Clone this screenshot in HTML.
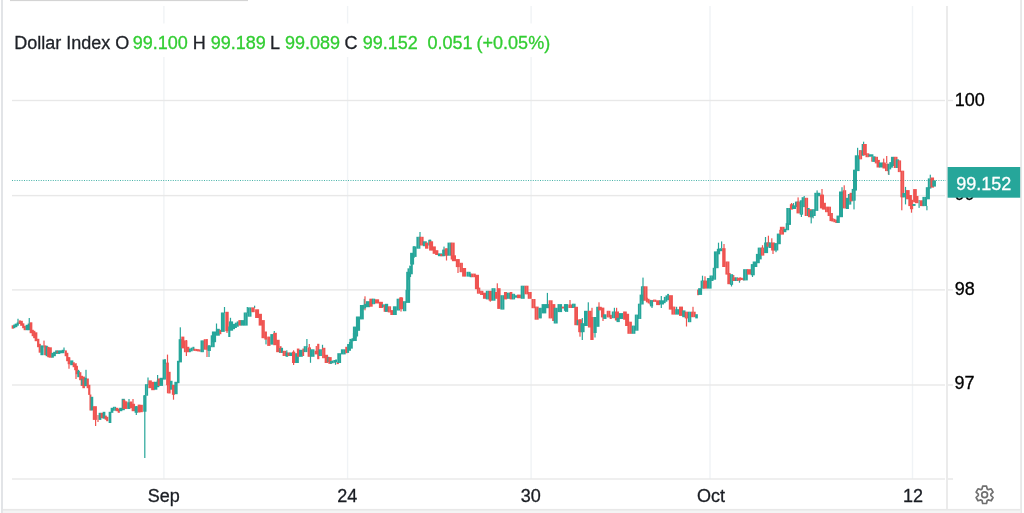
<!DOCTYPE html>
<html><head><meta charset="utf-8"><style>
html,body{margin:0;padding:0;background:#fff;width:1024px;height:513px;overflow:hidden}
svg{display:block;will-change:transform}
text{font-family:"Liberation Sans",sans-serif}
</style></head><body>
<svg width="1024" height="513" viewBox="0 0 1024 513">
<rect x="0" y="0" width="1024" height="513" fill="#ffffff"/>
<!-- outer frame -->
<rect x="1.1" y="0" width="1.8" height="513" fill="#dfe1e5"/>
<rect x="1020.3" y="0" width="1.5" height="513" fill="#e3e3e3"/>
<rect x="2.9" y="508.9" width="1017.4" height="1.9" fill="#e8e8e8"/>
<rect x="2.9" y="510.8" width="1017.4" height="2.2" fill="#f4f4f4"/>
<rect x="10" y="0" width="238" height="1.1" fill="#d4d4d4"/>
<!-- vertical grid -->
<g fill="#f0f3f6">
<rect x="163.2" y="6" width="1.4" height="473"/>
<rect x="346.9" y="6" width="1.4" height="473"/>
<rect x="530.4" y="6" width="1.4" height="473"/>
<rect x="709.3" y="6" width="1.4" height="473"/>
<rect x="911.8" y="6" width="1.4" height="473"/>
</g>
<!-- horizontal grid -->
<g fill="#e8e8e8">
<rect x="12" y="99.8" width="933" height="1.4"/>
<rect x="12" y="194.9" width="933" height="1.4"/>
<rect x="12" y="289.2" width="933" height="1.4"/>
<rect x="12" y="384.3" width="933" height="1.4"/>
<rect x="12" y="478.3" width="933" height="1.4"/>
</g>
<!-- price axis border and ticks -->
<rect x="946.2" y="6" width="1.6" height="503" fill="#e6e6e6"/>
<g fill="#e6e6e6">
<rect x="948" y="99.8" width="5" height="1.4"/>
<rect x="948" y="194.9" width="5" height="1.4"/>
<rect x="948" y="289.2" width="5" height="1.4"/>
<rect x="948" y="384.3" width="5" height="1.4"/>
<rect x="948" y="478.3" width="5" height="1.4"/>
</g>
<!-- last price line -->
<line x1="12" y1="180.5" x2="946" y2="180.5" stroke="#26a69a" stroke-width="1.2" stroke-dasharray="1 1.4" opacity="0.85"/>
<!-- candles -->
<g>
<rect x="17.40" y="318.75" width="1.2" height="5.25" fill="#26a69a"/>
<rect x="28.65" y="318.00" width="1.2" height="6.00" fill="#26a69a"/>
<rect x="43.40" y="340.60" width="1.2" height="6.90" fill="#ef5350"/>
<rect x="63.40" y="347.50" width="1.2" height="3.50" fill="#26a69a"/>
<rect x="68.40" y="357.00" width="1.2" height="11.75" fill="#ef5350"/>
<rect x="75.40" y="363.00" width="1.2" height="16.00" fill="#ef5350"/>
<rect x="77.90" y="369.80" width="1.2" height="7.20" fill="#26a69a"/>
<rect x="85.40" y="369.80" width="1.2" height="16.20" fill="#26a69a"/>
<rect x="95.00" y="410.00" width="1.2" height="16.00" fill="#ef5350"/>
<rect x="97.40" y="415.00" width="1.2" height="7.00" fill="#ef5350"/>
<rect x="128.40" y="399.00" width="1.2" height="10.00" fill="#26a69a"/>
<rect x="132.40" y="399.00" width="1.2" height="12.00" fill="#ef5350"/>
<rect x="135.70" y="406.00" width="1.2" height="9.00" fill="#26a69a"/>
<rect x="144.20" y="395.00" width="1.2" height="63.00" fill="#26a69a"/>
<rect x="147.40" y="377.50" width="1.2" height="7.50" fill="#26a69a"/>
<rect x="157.00" y="375.00" width="1.2" height="7.00" fill="#26a69a"/>
<rect x="164.40" y="359.00" width="1.2" height="5.00" fill="#26a69a"/>
<rect x="166.90" y="354.60" width="1.2" height="38.70" fill="#ef5350"/>
<rect x="172.90" y="385.00" width="1.2" height="14.70" fill="#ef5350"/>
<rect x="179.70" y="327.30" width="1.2" height="12.70" fill="#26a69a"/>
<rect x="185.80" y="340.00" width="1.2" height="16.00" fill="#ef5350"/>
<rect x="206.40" y="339.00" width="1.2" height="18.00" fill="#ef5350"/>
<rect x="208.40" y="345.00" width="1.2" height="12.00" fill="#26a69a"/>
<rect x="215.90" y="323.50" width="1.2" height="8.50" fill="#26a69a"/>
<rect x="223.90" y="307.00" width="1.2" height="6.00" fill="#26a69a"/>
<rect x="226.40" y="330.00" width="1.2" height="3.00" fill="#ef5350"/>
<rect x="229.90" y="317.80" width="1.2" height="4.20" fill="#26a69a"/>
<rect x="246.70" y="307.00" width="1.2" height="6.00" fill="#26a69a"/>
<rect x="254.00" y="305.70" width="1.2" height="2.30" fill="#26a69a"/>
<rect x="265.40" y="338.00" width="1.2" height="6.40" fill="#26a69a"/>
<rect x="273.70" y="331.00" width="1.2" height="4.00" fill="#26a69a"/>
<rect x="286.20" y="350.30" width="1.2" height="5.70" fill="#26a69a"/>
<rect x="293.00" y="350.30" width="1.2" height="14.70" fill="#ef5350"/>
<rect x="306.30" y="339.00" width="1.2" height="8.00" fill="#26a69a"/>
<rect x="308.70" y="344.00" width="1.2" height="4.00" fill="#ef5350"/>
<rect x="309.90" y="349.50" width="1.2" height="13.30" fill="#26a69a"/>
<rect x="315.70" y="346.00" width="1.2" height="5.00" fill="#ef5350"/>
<rect x="321.90" y="344.80" width="1.2" height="5.20" fill="#26a69a"/>
<rect x="334.90" y="360.00" width="1.2" height="4.80" fill="#26a69a"/>
<rect x="363.70" y="298.90" width="1.2" height="6.10" fill="#26a69a"/>
<rect x="364.40" y="296.30" width="1.2" height="14.00" fill="#ef5350"/>
<rect x="400.40" y="297.00" width="1.2" height="14.60" fill="#ef5350"/>
<rect x="413.40" y="246.00" width="1.2" height="12.00" fill="#26a69a"/>
<rect x="419.40" y="232.00" width="1.2" height="5.00" fill="#26a69a"/>
<rect x="429.40" y="239.60" width="1.2" height="1.40" fill="#26a69a"/>
<rect x="443.40" y="246.60" width="1.2" height="3.40" fill="#26a69a"/>
<rect x="445.90" y="248.50" width="1.2" height="12.00" fill="#ef5350"/>
<rect x="457.40" y="259.00" width="1.2" height="14.00" fill="#ef5350"/>
<rect x="489.70" y="291.00" width="1.2" height="10.70" fill="#ef5350"/>
<rect x="496.70" y="283.30" width="1.2" height="8.70" fill="#ef5350"/>
<rect x="546.80" y="292.90" width="1.2" height="12.10" fill="#26a69a"/>
<rect x="569.40" y="300.00" width="1.2" height="5.00" fill="#ef5350"/>
<rect x="579.40" y="319.50" width="1.2" height="17.20" fill="#ef5350"/>
<rect x="581.70" y="318.00" width="1.2" height="22.00" fill="#26a69a"/>
<rect x="587.70" y="302.30" width="1.2" height="8.70" fill="#26a69a"/>
<rect x="591.40" y="307.80" width="1.2" height="9.20" fill="#ef5350"/>
<rect x="594.40" y="330.00" width="1.2" height="7.50" fill="#26a69a"/>
<rect x="598.40" y="302.30" width="1.2" height="4.70" fill="#ef5350"/>
<rect x="602.40" y="316.00" width="1.2" height="5.00" fill="#ef5350"/>
<rect x="613.80" y="307.80" width="1.2" height="4.20" fill="#26a69a"/>
<rect x="616.00" y="307.80" width="1.2" height="4.20" fill="#ef5350"/>
<rect x="642.40" y="277.60" width="1.2" height="9.40" fill="#26a69a"/>
<rect x="651.40" y="300.00" width="1.2" height="8.00" fill="#26a69a"/>
<rect x="660.70" y="296.00" width="1.2" height="12.00" fill="#26a69a"/>
<rect x="676.00" y="306.80" width="1.2" height="3.20" fill="#26a69a"/>
<rect x="685.90" y="318.00" width="1.2" height="8.50" fill="#ef5350"/>
<rect x="692.40" y="306.80" width="1.2" height="5.20" fill="#ef5350"/>
<rect x="701.90" y="275.70" width="1.2" height="5.30" fill="#26a69a"/>
<rect x="704.40" y="276.30" width="1.2" height="4.70" fill="#ef5350"/>
<rect x="717.90" y="242.70" width="1.2" height="6.30" fill="#26a69a"/>
<rect x="721.00" y="241.40" width="1.2" height="6.60" fill="#26a69a"/>
<rect x="723.40" y="244.00" width="1.2" height="5.00" fill="#ef5350"/>
<rect x="730.90" y="284.00" width="1.2" height="2.50" fill="#26a69a"/>
<rect x="733.10" y="275.00" width="1.2" height="3.00" fill="#ef5350"/>
<rect x="738.90" y="280.00" width="1.2" height="2.70" fill="#26a69a"/>
<rect x="751.90" y="274.00" width="1.2" height="3.00" fill="#26a69a"/>
<rect x="761.90" y="245.20" width="1.2" height="2.80" fill="#ef5350"/>
<rect x="764.90" y="237.00" width="1.2" height="6.00" fill="#26a69a"/>
<rect x="767.80" y="235.70" width="1.2" height="7.30" fill="#ef5350"/>
<rect x="771.20" y="238.30" width="1.2" height="4.70" fill="#ef5350"/>
<rect x="772.40" y="250.00" width="1.2" height="4.00" fill="#ef5350"/>
<rect x="775.40" y="250.00" width="1.2" height="2.20" fill="#26a69a"/>
<rect x="790.90" y="203.00" width="1.2" height="2.00" fill="#ef5350"/>
<rect x="792.90" y="203.00" width="1.2" height="3.00" fill="#26a69a"/>
<rect x="797.50" y="197.40" width="1.2" height="4.60" fill="#ef5350"/>
<rect x="800.80" y="214.00" width="1.2" height="3.00" fill="#26a69a"/>
<rect x="803.60" y="196.00" width="1.2" height="1.40" fill="#26a69a"/>
<rect x="810.60" y="217.00" width="1.2" height="6.40" fill="#26a69a"/>
<rect x="812.50" y="215.00" width="1.2" height="3.30" fill="#26a69a"/>
<rect x="816.50" y="190.40" width="1.2" height="2.60" fill="#26a69a"/>
<rect x="821.40" y="189.00" width="1.2" height="6.00" fill="#ef5350"/>
<rect x="841.40" y="187.20" width="1.2" height="4.80" fill="#26a69a"/>
<rect x="843.60" y="185.30" width="1.2" height="5.10" fill="#ef5350"/>
<rect x="853.40" y="200.00" width="1.2" height="9.40" fill="#26a69a"/>
<rect x="857.00" y="147.80" width="1.2" height="8.20" fill="#26a69a"/>
<rect x="859.40" y="150.40" width="1.2" height="0.60" fill="#26a69a"/>
<rect x="863.00" y="141.70" width="1.2" height="2.50" fill="#26a69a"/>
<rect x="871.20" y="156.50" width="1.2" height="5.20" fill="#ef5350"/>
<rect x="883.10" y="158.60" width="1.2" height="4.40" fill="#ef5350"/>
<rect x="886.10" y="156.00" width="1.2" height="7.00" fill="#ef5350"/>
<rect x="887.80" y="170.00" width="1.2" height="4.50" fill="#ef5350"/>
<rect x="888.30" y="170.90" width="1.2" height="4.10" fill="#26a69a"/>
<rect x="901.20" y="197.00" width="1.2" height="13.30" fill="#ef5350"/>
<rect x="904.90" y="186.90" width="1.2" height="17.50" fill="#26a69a"/>
<rect x="910.90" y="209.00" width="1.2" height="3.70" fill="#ef5350"/>
<rect x="918.50" y="200.00" width="1.2" height="7.90" fill="#26a69a"/>
<rect x="926.30" y="205.90" width="1.2" height="4.40" fill="#26a69a"/>
<rect x="929.70" y="174.70" width="1.2" height="3.90" fill="#26a69a"/>
<rect x="11.65" y="325.30" width="2.20" height="3.40" fill="#ef5350"/>
<rect x="13.15" y="324.60" width="2.20" height="3.60" fill="#26a69a"/>
<rect x="14.65" y="323.60" width="2.70" height="3.60" fill="#26a69a"/>
<rect x="16.65" y="322.50" width="2.20" height="3.20" fill="#26a69a"/>
<rect x="18.65" y="320.40" width="2.20" height="3.55" fill="#ef5350"/>
<rect x="20.15" y="320.80" width="2.70" height="5.00" fill="#ef5350"/>
<rect x="22.15" y="323.30" width="2.20" height="4.90" fill="#ef5350"/>
<rect x="23.65" y="325.80" width="2.20" height="4.40" fill="#ef5350"/>
<rect x="25.65" y="324.80" width="2.70" height="5.40" fill="#26a69a"/>
<rect x="27.65" y="323.55" width="2.70" height="6.65" fill="#26a69a"/>
<rect x="29.65" y="322.30" width="2.70" height="10.90" fill="#ef5350"/>
<rect x="31.65" y="329.80" width="2.20" height="6.40" fill="#ef5350"/>
<rect x="33.15" y="330.80" width="2.20" height="7.40" fill="#ef5350"/>
<rect x="34.65" y="332.30" width="2.70" height="8.90" fill="#ef5350"/>
<rect x="37.05" y="338.80" width="2.30" height="8.40" fill="#ef5350"/>
<rect x="38.65" y="343.80" width="2.20" height="8.90" fill="#ef5350"/>
<rect x="40.40" y="345.40" width="1.70" height="9.80" fill="#26a69a"/>
<rect x="41.90" y="345.40" width="1.70" height="9.80" fill="#26a69a"/>
<rect x="44.15" y="345.40" width="2.20" height="9.80" fill="#ef5350"/>
<rect x="45.65" y="345.80" width="2.20" height="10.40" fill="#26a69a"/>
<rect x="47.15" y="346.80" width="2.20" height="10.40" fill="#ef5350"/>
<rect x="48.65" y="347.30" width="3.20" height="10.40" fill="#ef5350"/>
<rect x="51.35" y="352.80" width="2.50" height="4.90" fill="#26a69a"/>
<rect x="53.15" y="351.80" width="2.70" height="4.40" fill="#26a69a"/>
<rect x="55.15" y="350.40" width="2.70" height="3.55" fill="#26a69a"/>
<rect x="56.65" y="350.80" width="1.70" height="2.40" fill="#ef5350"/>
<rect x="57.65" y="350.40" width="2.70" height="3.55" fill="#26a69a"/>
<rect x="59.65" y="350.40" width="2.70" height="2.80" fill="#26a69a"/>
<rect x="61.65" y="349.80" width="2.70" height="3.40" fill="#26a69a"/>
<rect x="64.65" y="350.40" width="2.20" height="5.80" fill="#ef5350"/>
<rect x="66.15" y="352.80" width="2.20" height="8.40" fill="#ef5350"/>
<rect x="67.65" y="357.30" width="2.70" height="6.90" fill="#ef5350"/>
<rect x="70.15" y="360.40" width="3.20" height="4.80" fill="#26a69a"/>
<rect x="72.65" y="362.30" width="2.20" height="4.90" fill="#ef5350"/>
<rect x="74.15" y="363.80" width="2.20" height="6.40" fill="#ef5350"/>
<rect x="75.65" y="365.80" width="2.30" height="8.40" fill="#ef5350"/>
<rect x="77.25" y="370.80" width="2.60" height="6.40" fill="#26a69a"/>
<rect x="79.15" y="372.20" width="2.20" height="8.00" fill="#ef5350"/>
<rect x="80.65" y="375.80" width="2.40" height="10.10" fill="#ef5350"/>
<rect x="81.15" y="378.80" width="1.70" height="6.40" fill="#26a69a"/>
<rect x="82.35" y="376.60" width="2.60" height="11.60" fill="#ef5350"/>
<rect x="84.25" y="377.80" width="2.60" height="8.40" fill="#26a69a"/>
<rect x="86.65" y="378.50" width="2.20" height="9.70" fill="#ef5350"/>
<rect x="88.15" y="384.80" width="2.20" height="10.10" fill="#ef5350"/>
<rect x="89.45" y="394.50" width="1.90" height="16.00" fill="#ef5350"/>
<rect x="90.65" y="396.80" width="2.60" height="13.70" fill="#26a69a"/>
<rect x="92.80" y="406.20" width="2.15" height="13.70" fill="#ef5350"/>
<rect x="94.75" y="406.20" width="2.15" height="13.70" fill="#ef5350"/>
<rect x="98.65" y="412.80" width="2.70" height="7.10" fill="#26a69a"/>
<rect x="100.65" y="412.80" width="2.70" height="5.40" fill="#ef5350"/>
<rect x="102.65" y="411.80" width="2.70" height="6.90" fill="#26a69a"/>
<rect x="104.65" y="415.60" width="2.20" height="4.10" fill="#ef5350"/>
<rect x="106.15" y="416.80" width="2.20" height="4.40" fill="#ef5350"/>
<rect x="108.65" y="411.80" width="2.70" height="11.20" fill="#26a69a"/>
<rect x="110.65" y="407.80" width="2.70" height="5.00" fill="#26a69a"/>
<rect x="112.90" y="406.80" width="1.70" height="3.90" fill="#26a69a"/>
<rect x="114.40" y="406.80" width="1.70" height="3.90" fill="#26a69a"/>
<rect x="115.65" y="407.80" width="2.70" height="3.40" fill="#ef5350"/>
<rect x="117.65" y="408.80" width="2.20" height="4.00" fill="#ef5350"/>
<rect x="119.15" y="407.80" width="3.20" height="3.40" fill="#26a69a"/>
<rect x="121.65" y="398.80" width="3.20" height="11.40" fill="#26a69a"/>
<rect x="122.65" y="399.80" width="2.70" height="9.15" fill="#ef5350"/>
<rect x="124.65" y="401.30" width="2.70" height="7.65" fill="#ef5350"/>
<rect x="127.25" y="402.30" width="3.10" height="6.65" fill="#26a69a"/>
<rect x="129.65" y="401.50" width="2.70" height="6.70" fill="#ef5350"/>
<rect x="131.65" y="403.80" width="3.40" height="7.40" fill="#ef5350"/>
<rect x="134.60" y="406.20" width="1.75" height="6.60" fill="#26a69a"/>
<rect x="136.15" y="406.20" width="1.75" height="6.60" fill="#26a69a"/>
<rect x="137.65" y="404.60" width="2.70" height="7.90" fill="#ef5350"/>
<rect x="139.65" y="404.80" width="3.20" height="7.40" fill="#ef5350"/>
<rect x="143.20" y="395.30" width="1.75" height="16.40" fill="#26a69a"/>
<rect x="144.75" y="395.30" width="1.75" height="16.40" fill="#26a69a"/>
<rect x="144.90" y="384.20" width="1.70" height="11.50" fill="#26a69a"/>
<rect x="146.40" y="384.20" width="1.70" height="11.50" fill="#26a69a"/>
<rect x="148.35" y="380.40" width="3.50" height="7.80" fill="#ef5350"/>
<rect x="151.15" y="381.80" width="3.60" height="8.40" fill="#ef5350"/>
<rect x="154.05" y="381.80" width="3.30" height="7.90" fill="#26a69a"/>
<rect x="156.65" y="380.40" width="2.70" height="6.80" fill="#26a69a"/>
<rect x="157.65" y="378.50" width="2.70" height="7.40" fill="#ef5350"/>
<rect x="159.65" y="377.80" width="3.40" height="8.10" fill="#26a69a"/>
<rect x="162.60" y="359.50" width="1.75" height="20.10" fill="#26a69a"/>
<rect x="164.15" y="359.50" width="1.75" height="20.10" fill="#26a69a"/>
<rect x="166.15" y="362.60" width="2.70" height="22.60" fill="#ef5350"/>
<rect x="168.15" y="371.80" width="2.50" height="21.70" fill="#ef5350"/>
<rect x="169.95" y="380.80" width="2.60" height="8.90" fill="#26a69a"/>
<rect x="171.85" y="384.80" width="3.20" height="10.00" fill="#ef5350"/>
<rect x="174.35" y="381.80" width="3.30" height="12.40" fill="#26a69a"/>
<rect x="176.95" y="360.80" width="2.60" height="22.40" fill="#26a69a"/>
<rect x="178.65" y="339.20" width="3.30" height="23.20" fill="#26a69a"/>
<rect x="181.25" y="336.60" width="3.10" height="11.80" fill="#ef5350"/>
<rect x="183.90" y="340.40" width="1.85" height="11.80" fill="#ef5350"/>
<rect x="185.55" y="340.40" width="1.85" height="11.80" fill="#ef5350"/>
<rect x="186.95" y="346.80" width="2.40" height="5.40" fill="#ef5350"/>
<rect x="188.90" y="348.47" width="1.97" height="3.73" fill="#26a69a"/>
<rect x="190.67" y="347.63" width="1.97" height="3.73" fill="#26a69a"/>
<rect x="192.43" y="346.80" width="1.97" height="3.73" fill="#26a69a"/>
<rect x="193.50" y="348.70" width="1.95" height="2.20" fill="#ef5350"/>
<rect x="195.25" y="348.93" width="1.95" height="2.20" fill="#ef5350"/>
<rect x="197.00" y="349.17" width="1.95" height="2.20" fill="#ef5350"/>
<rect x="198.75" y="349.40" width="1.95" height="2.20" fill="#ef5350"/>
<rect x="200.50" y="340.40" width="1.80" height="11.80" fill="#26a69a"/>
<rect x="202.10" y="340.40" width="1.80" height="11.80" fill="#26a69a"/>
<rect x="203.70" y="339.20" width="2.10" height="10.50" fill="#ef5350"/>
<rect x="205.60" y="339.20" width="2.10" height="10.50" fill="#ef5350"/>
<rect x="207.50" y="345.50" width="1.80" height="5.50" fill="#26a69a"/>
<rect x="209.10" y="345.50" width="1.80" height="5.50" fill="#26a69a"/>
<rect x="210.70" y="335.30" width="2.10" height="11.90" fill="#26a69a"/>
<rect x="212.60" y="335.30" width="2.10" height="11.90" fill="#26a69a"/>
<rect x="211.90" y="331.50" width="2.20" height="10.70" fill="#26a69a"/>
<rect x="213.90" y="331.50" width="2.20" height="10.70" fill="#26a69a"/>
<rect x="215.90" y="328.80" width="2.05" height="6.90" fill="#26a69a"/>
<rect x="217.75" y="328.80" width="2.05" height="6.90" fill="#26a69a"/>
<rect x="219.35" y="329.80" width="2.00" height="4.40" fill="#ef5350"/>
<rect x="220.90" y="312.50" width="2.05" height="19.40" fill="#26a69a"/>
<rect x="222.75" y="312.50" width="2.05" height="19.40" fill="#26a69a"/>
<rect x="225.30" y="311.80" width="1.80" height="19.40" fill="#ef5350"/>
<rect x="226.90" y="311.80" width="1.80" height="19.40" fill="#ef5350"/>
<rect x="228.25" y="326.50" width="2.10" height="10.50" fill="#26a69a"/>
<rect x="228.90" y="321.40" width="2.20" height="9.30" fill="#26a69a"/>
<rect x="230.90" y="321.40" width="2.20" height="9.30" fill="#26a69a"/>
<rect x="232.90" y="323.87" width="2.10" height="5.33" fill="#26a69a"/>
<rect x="234.80" y="322.63" width="2.10" height="5.33" fill="#26a69a"/>
<rect x="236.70" y="321.40" width="2.10" height="5.33" fill="#26a69a"/>
<rect x="238.35" y="320.10" width="3.00" height="5.50" fill="#ef5350"/>
<rect x="240.65" y="320.10" width="3.50" height="5.50" fill="#26a69a"/>
<rect x="243.70" y="312.50" width="2.10" height="13.10" fill="#26a69a"/>
<rect x="245.60" y="312.50" width="2.10" height="13.10" fill="#26a69a"/>
<rect x="247.50" y="307.40" width="2.10" height="9.30" fill="#26a69a"/>
<rect x="249.40" y="307.40" width="2.10" height="9.30" fill="#26a69a"/>
<rect x="251.30" y="307.40" width="1.80" height="4.80" fill="#ef5350"/>
<rect x="252.90" y="307.40" width="1.80" height="4.80" fill="#ef5350"/>
<rect x="255.10" y="309.30" width="2.10" height="8.70" fill="#ef5350"/>
<rect x="257.00" y="309.30" width="2.10" height="8.70" fill="#ef5350"/>
<rect x="258.65" y="313.80" width="3.30" height="11.80" fill="#ef5350"/>
<rect x="261.50" y="320.10" width="1.75" height="18.10" fill="#ef5350"/>
<rect x="263.05" y="320.10" width="1.75" height="18.10" fill="#ef5350"/>
<rect x="264.35" y="331.50" width="2.60" height="8.10" fill="#ef5350"/>
<rect x="267.20" y="336.60" width="1.75" height="9.30" fill="#ef5350"/>
<rect x="268.75" y="336.60" width="1.75" height="9.30" fill="#ef5350"/>
<rect x="270.30" y="334.10" width="1.80" height="10.50" fill="#26a69a"/>
<rect x="271.90" y="334.10" width="1.80" height="10.50" fill="#26a69a"/>
<rect x="273.25" y="332.80" width="3.60" height="12.40" fill="#ef5350"/>
<rect x="276.15" y="339.80" width="3.50" height="12.40" fill="#ef5350"/>
<rect x="278.95" y="348.00" width="1.70" height="4.90" fill="#26a69a"/>
<rect x="279.65" y="346.20" width="1.90" height="6.70" fill="#ef5350"/>
<rect x="280.85" y="347.80" width="2.20" height="5.10" fill="#26a69a"/>
<rect x="282.60" y="350.80" width="1.80" height="5.20" fill="#ef5350"/>
<rect x="284.20" y="350.80" width="1.80" height="5.20" fill="#ef5350"/>
<rect x="285.55" y="352.50" width="2.60" height="4.30" fill="#26a69a"/>
<rect x="287.45" y="352.50" width="2.70" height="3.50" fill="#ef5350"/>
<rect x="289.45" y="352.50" width="3.00" height="3.50" fill="#26a69a"/>
<rect x="292.00" y="351.70" width="1.75" height="11.30" fill="#ef5350"/>
<rect x="293.55" y="351.70" width="1.75" height="11.30" fill="#ef5350"/>
<rect x="295.10" y="353.20" width="1.98" height="9.80" fill="#26a69a"/>
<rect x="296.88" y="353.20" width="1.98" height="9.80" fill="#26a69a"/>
<rect x="296.85" y="348.55" width="2.60" height="8.25" fill="#ef5350"/>
<rect x="299.00" y="349.80" width="2.00" height="7.00" fill="#26a69a"/>
<rect x="300.80" y="349.80" width="2.00" height="7.00" fill="#26a69a"/>
<rect x="302.35" y="348.55" width="1.80" height="7.45" fill="#ef5350"/>
<rect x="303.70" y="346.20" width="1.95" height="5.90" fill="#26a69a"/>
<rect x="305.45" y="346.20" width="1.95" height="5.90" fill="#26a69a"/>
<rect x="307.60" y="347.40" width="1.80" height="9.40" fill="#ef5350"/>
<rect x="309.20" y="347.40" width="1.80" height="9.40" fill="#ef5350"/>
<rect x="309.90" y="349.30" width="2.40" height="7.50" fill="#26a69a"/>
<rect x="312.10" y="349.30" width="2.40" height="7.50" fill="#26a69a"/>
<rect x="314.65" y="350.80" width="3.20" height="3.60" fill="#ef5350"/>
<rect x="317.15" y="343.80" width="2.20" height="15.40" fill="#ef5350"/>
<rect x="318.60" y="349.30" width="1.75" height="6.70" fill="#26a69a"/>
<rect x="320.15" y="349.30" width="1.75" height="6.70" fill="#26a69a"/>
<rect x="322.10" y="347.80" width="1.75" height="10.40" fill="#ef5350"/>
<rect x="323.65" y="347.80" width="1.75" height="10.40" fill="#ef5350"/>
<rect x="324.65" y="354.80" width="3.40" height="8.20" fill="#ef5350"/>
<rect x="327.35" y="356.80" width="2.00" height="5.40" fill="#26a69a"/>
<rect x="328.30" y="357.10" width="1.80" height="6.70" fill="#ef5350"/>
<rect x="329.90" y="357.10" width="1.80" height="6.70" fill="#ef5350"/>
<rect x="329.90" y="361.06" width="1.95" height="2.74" fill="#26a69a"/>
<rect x="331.65" y="360.54" width="1.95" height="2.74" fill="#26a69a"/>
<rect x="333.40" y="360.02" width="1.95" height="2.74" fill="#26a69a"/>
<rect x="335.15" y="359.50" width="1.95" height="2.74" fill="#26a69a"/>
<rect x="336.65" y="362.20" width="2.20" height="1.90" fill="#ef5350"/>
<rect x="337.30" y="353.20" width="2.00" height="9.80" fill="#26a69a"/>
<rect x="339.10" y="353.20" width="2.00" height="9.80" fill="#26a69a"/>
<rect x="340.90" y="349.30" width="2.50" height="5.10" fill="#26a69a"/>
<rect x="343.20" y="349.30" width="2.50" height="5.10" fill="#26a69a"/>
<rect x="345.25" y="346.80" width="2.30" height="6.40" fill="#ef5350"/>
<rect x="347.10" y="344.03" width="2.03" height="8.87" fill="#26a69a"/>
<rect x="348.93" y="341.92" width="2.03" height="8.87" fill="#26a69a"/>
<rect x="350.77" y="339.80" width="2.03" height="8.87" fill="#26a69a"/>
<rect x="349.40" y="338.90" width="2.30" height="3.00" fill="#26a69a"/>
<rect x="351.50" y="338.25" width="2.30" height="3.00" fill="#26a69a"/>
<rect x="353.60" y="337.60" width="2.30" height="3.00" fill="#26a69a"/>
<rect x="352.90" y="332.93" width="1.87" height="6.67" fill="#26a69a"/>
<rect x="354.57" y="331.37" width="1.87" height="6.67" fill="#26a69a"/>
<rect x="356.23" y="329.80" width="1.87" height="6.67" fill="#26a69a"/>
<rect x="352.90" y="326.60" width="2.05" height="14.40" fill="#26a69a"/>
<rect x="354.75" y="326.60" width="2.05" height="14.40" fill="#26a69a"/>
<rect x="355.90" y="316.50" width="2.20" height="14.30" fill="#26a69a"/>
<rect x="357.90" y="316.50" width="2.20" height="14.30" fill="#26a69a"/>
<rect x="359.90" y="305.00" width="2.05" height="14.40" fill="#26a69a"/>
<rect x="361.75" y="305.00" width="2.05" height="14.40" fill="#26a69a"/>
<rect x="360.90" y="305.90" width="1.87" height="4.60" fill="#26a69a"/>
<rect x="362.57" y="304.85" width="1.87" height="4.60" fill="#26a69a"/>
<rect x="364.23" y="303.80" width="1.87" height="4.60" fill="#26a69a"/>
<rect x="365.90" y="301.20" width="2.20" height="6.00" fill="#26a69a"/>
<rect x="367.90" y="301.20" width="2.20" height="6.00" fill="#26a69a"/>
<rect x="369.30" y="298.70" width="1.80" height="8.00" fill="#ef5350"/>
<rect x="370.90" y="298.70" width="1.80" height="8.00" fill="#ef5350"/>
<rect x="371.90" y="298.70" width="1.75" height="5.50" fill="#26a69a"/>
<rect x="373.45" y="298.70" width="1.75" height="5.50" fill="#26a69a"/>
<rect x="375.00" y="299.30" width="2.15" height="4.20" fill="#ef5350"/>
<rect x="376.95" y="299.30" width="2.15" height="4.20" fill="#ef5350"/>
<rect x="378.90" y="301.80" width="2.10" height="6.20" fill="#ef5350"/>
<rect x="380.80" y="301.80" width="2.10" height="6.20" fill="#ef5350"/>
<rect x="381.90" y="304.40" width="1.85" height="2.90" fill="#26a69a"/>
<rect x="383.55" y="304.40" width="1.85" height="2.90" fill="#26a69a"/>
<rect x="383.65" y="305.00" width="3.30" height="6.80" fill="#ef5350"/>
<rect x="384.95" y="303.80" width="3.20" height="8.00" fill="#26a69a"/>
<rect x="387.70" y="306.30" width="1.80" height="6.10" fill="#ef5350"/>
<rect x="389.30" y="306.30" width="1.80" height="6.10" fill="#ef5350"/>
<rect x="390.30" y="310.10" width="1.75" height="4.90" fill="#ef5350"/>
<rect x="391.85" y="310.10" width="1.75" height="4.90" fill="#ef5350"/>
<rect x="392.90" y="306.30" width="2.05" height="8.70" fill="#26a69a"/>
<rect x="394.75" y="306.30" width="2.05" height="8.70" fill="#26a69a"/>
<rect x="396.60" y="298.70" width="1.80" height="11.80" fill="#26a69a"/>
<rect x="398.20" y="298.70" width="1.80" height="11.80" fill="#26a69a"/>
<rect x="399.20" y="297.40" width="2.05" height="11.80" fill="#ef5350"/>
<rect x="401.05" y="297.40" width="2.05" height="11.80" fill="#ef5350"/>
<rect x="402.90" y="301.20" width="1.80" height="10.00" fill="#26a69a"/>
<rect x="404.50" y="301.20" width="1.80" height="10.00" fill="#26a69a"/>
<rect x="405.50" y="289.80" width="2.40" height="13.10" fill="#26a69a"/>
<rect x="407.70" y="289.80" width="2.40" height="13.10" fill="#26a69a"/>
<rect x="406.20" y="271.80" width="2.15" height="18.40" fill="#26a69a"/>
<rect x="408.15" y="271.80" width="2.15" height="18.40" fill="#26a69a"/>
<rect x="407.50" y="268.33" width="1.90" height="11.47" fill="#26a69a"/>
<rect x="409.20" y="265.57" width="1.90" height="11.47" fill="#26a69a"/>
<rect x="410.90" y="262.80" width="1.90" height="11.47" fill="#26a69a"/>
<rect x="410.10" y="252.80" width="2.10" height="11.80" fill="#26a69a"/>
<rect x="412.00" y="252.80" width="2.10" height="11.80" fill="#26a69a"/>
<rect x="412.60" y="246.40" width="2.10" height="10.50" fill="#26a69a"/>
<rect x="414.50" y="246.40" width="2.10" height="10.50" fill="#26a69a"/>
<rect x="416.40" y="236.80" width="2.10" height="11.90" fill="#26a69a"/>
<rect x="418.30" y="236.80" width="2.10" height="11.90" fill="#26a69a"/>
<rect x="419.60" y="236.80" width="2.10" height="8.70" fill="#ef5350"/>
<rect x="421.50" y="236.80" width="2.10" height="8.70" fill="#ef5350"/>
<rect x="422.80" y="241.30" width="2.10" height="4.90" fill="#26a69a"/>
<rect x="424.70" y="241.30" width="2.10" height="4.90" fill="#26a69a"/>
<rect x="425.05" y="242.60" width="3.30" height="6.10" fill="#ef5350"/>
<rect x="428.25" y="239.80" width="3.10" height="5.70" fill="#26a69a"/>
<rect x="429.10" y="241.30" width="2.10" height="9.30" fill="#ef5350"/>
<rect x="431.00" y="241.30" width="2.10" height="9.30" fill="#ef5350"/>
<rect x="432.65" y="246.40" width="3.20" height="7.40" fill="#ef5350"/>
<rect x="435.15" y="250.20" width="3.20" height="4.80" fill="#ef5350"/>
<rect x="437.90" y="253.40" width="2.15" height="2.80" fill="#26a69a"/>
<rect x="439.85" y="253.40" width="2.15" height="2.80" fill="#26a69a"/>
<rect x="440.25" y="254.00" width="3.50" height="2.20" fill="#ef5350"/>
<rect x="442.15" y="249.60" width="3.20" height="6.60" fill="#26a69a"/>
<rect x="444.65" y="248.30" width="3.30" height="7.40" fill="#ef5350"/>
<rect x="447.50" y="242.60" width="2.10" height="13.10" fill="#26a69a"/>
<rect x="449.40" y="242.60" width="2.10" height="13.10" fill="#26a69a"/>
<rect x="450.70" y="242.60" width="2.10" height="16.90" fill="#ef5350"/>
<rect x="452.60" y="242.60" width="2.10" height="16.90" fill="#ef5350"/>
<rect x="451.90" y="255.30" width="2.15" height="5.90" fill="#ef5350"/>
<rect x="453.85" y="255.30" width="2.15" height="5.90" fill="#ef5350"/>
<rect x="455.80" y="259.10" width="2.10" height="8.00" fill="#ef5350"/>
<rect x="457.70" y="259.10" width="2.10" height="8.00" fill="#ef5350"/>
<rect x="459.60" y="262.80" width="1.75" height="9.40" fill="#ef5350"/>
<rect x="461.15" y="262.80" width="1.75" height="9.40" fill="#ef5350"/>
<rect x="462.10" y="268.00" width="2.10" height="8.60" fill="#ef5350"/>
<rect x="464.00" y="268.00" width="2.10" height="8.60" fill="#ef5350"/>
<rect x="466.50" y="271.80" width="2.15" height="4.80" fill="#26a69a"/>
<rect x="468.45" y="271.80" width="2.15" height="4.80" fill="#26a69a"/>
<rect x="469.65" y="273.60" width="2.00" height="3.60" fill="#26a69a"/>
<rect x="471.20" y="273.60" width="2.40" height="3.60" fill="#ef5350"/>
<rect x="473.40" y="273.60" width="2.40" height="3.60" fill="#ef5350"/>
<rect x="474.90" y="274.80" width="2.15" height="14.40" fill="#ef5350"/>
<rect x="476.85" y="274.80" width="2.15" height="14.40" fill="#ef5350"/>
<rect x="476.90" y="287.60" width="1.80" height="6.10" fill="#ef5350"/>
<rect x="478.50" y="287.60" width="1.80" height="6.10" fill="#ef5350"/>
<rect x="480.10" y="290.80" width="1.75" height="4.20" fill="#ef5350"/>
<rect x="481.65" y="290.80" width="1.75" height="4.20" fill="#ef5350"/>
<rect x="482.95" y="292.70" width="3.30" height="6.10" fill="#ef5350"/>
<rect x="485.80" y="290.80" width="1.75" height="8.60" fill="#26a69a"/>
<rect x="487.35" y="290.80" width="1.75" height="8.60" fill="#26a69a"/>
<rect x="488.65" y="290.80" width="3.30" height="9.90" fill="#ef5350"/>
<rect x="491.50" y="288.20" width="2.10" height="12.50" fill="#26a69a"/>
<rect x="493.40" y="288.20" width="2.10" height="12.50" fill="#26a69a"/>
<rect x="495.05" y="292.00" width="2.60" height="6.80" fill="#ef5350"/>
<rect x="497.20" y="288.20" width="1.80" height="20.70" fill="#ef5350"/>
<rect x="498.80" y="288.20" width="1.80" height="20.70" fill="#ef5350"/>
<rect x="500.40" y="295.20" width="2.10" height="14.40" fill="#26a69a"/>
<rect x="502.30" y="295.20" width="2.10" height="14.40" fill="#26a69a"/>
<rect x="503.95" y="292.00" width="3.20" height="7.40" fill="#ef5350"/>
<rect x="506.70" y="292.70" width="2.10" height="6.10" fill="#26a69a"/>
<rect x="508.60" y="292.70" width="2.10" height="6.10" fill="#26a69a"/>
<rect x="509.65" y="292.00" width="2.70" height="7.40" fill="#ef5350"/>
<rect x="511.80" y="293.80" width="1.75" height="5.60" fill="#26a69a"/>
<rect x="513.35" y="293.80" width="1.75" height="5.60" fill="#26a69a"/>
<rect x="514.65" y="295.30" width="2.70" height="2.40" fill="#26a69a"/>
<rect x="516.90" y="294.60" width="2.10" height="3.60" fill="#ef5350"/>
<rect x="518.80" y="294.60" width="2.10" height="3.60" fill="#ef5350"/>
<rect x="520.70" y="285.70" width="2.10" height="13.10" fill="#26a69a"/>
<rect x="522.60" y="285.70" width="2.10" height="13.10" fill="#26a69a"/>
<rect x="524.50" y="285.70" width="2.10" height="8.60" fill="#ef5350"/>
<rect x="526.40" y="285.70" width="2.10" height="8.60" fill="#ef5350"/>
<rect x="527.70" y="292.00" width="2.10" height="6.80" fill="#ef5350"/>
<rect x="529.60" y="292.00" width="2.10" height="6.80" fill="#ef5350"/>
<rect x="531.50" y="299.00" width="2.10" height="9.20" fill="#ef5350"/>
<rect x="533.40" y="299.00" width="2.10" height="9.20" fill="#ef5350"/>
<rect x="534.60" y="306.60" width="2.15" height="13.10" fill="#ef5350"/>
<rect x="536.55" y="306.60" width="2.15" height="13.10" fill="#ef5350"/>
<rect x="538.50" y="307.80" width="1.75" height="10.60" fill="#26a69a"/>
<rect x="540.05" y="307.80" width="1.75" height="10.60" fill="#26a69a"/>
<rect x="541.60" y="304.10" width="2.45" height="9.30" fill="#26a69a"/>
<rect x="543.85" y="304.10" width="2.45" height="9.30" fill="#26a69a"/>
<rect x="545.85" y="304.10" width="3.20" height="4.10" fill="#26a69a"/>
<rect x="548.60" y="300.30" width="2.10" height="18.10" fill="#ef5350"/>
<rect x="550.50" y="300.30" width="2.10" height="18.10" fill="#ef5350"/>
<rect x="552.15" y="304.10" width="3.20" height="16.90" fill="#ef5350"/>
<rect x="553.70" y="307.80" width="2.10" height="15.70" fill="#26a69a"/>
<rect x="555.60" y="307.80" width="2.10" height="15.70" fill="#26a69a"/>
<rect x="557.50" y="304.10" width="2.40" height="8.00" fill="#26a69a"/>
<rect x="559.70" y="304.10" width="2.40" height="8.00" fill="#26a69a"/>
<rect x="561.65" y="306.60" width="2.70" height="1.90" fill="#ef5350"/>
<rect x="563.90" y="304.10" width="2.10" height="6.70" fill="#26a69a"/>
<rect x="565.80" y="304.10" width="2.10" height="6.70" fill="#26a69a"/>
<rect x="564.90" y="304.50" width="1.75" height="7.40" fill="#26a69a"/>
<rect x="566.45" y="304.50" width="1.75" height="7.40" fill="#26a69a"/>
<rect x="568.40" y="304.50" width="1.95" height="3.50" fill="#ef5350"/>
<rect x="570.15" y="304.50" width="1.95" height="3.50" fill="#ef5350"/>
<rect x="571.90" y="303.70" width="1.95" height="4.30" fill="#26a69a"/>
<rect x="573.65" y="303.70" width="1.95" height="4.30" fill="#26a69a"/>
<rect x="574.30" y="306.80" width="1.95" height="18.40" fill="#ef5350"/>
<rect x="576.05" y="306.80" width="1.95" height="18.40" fill="#ef5350"/>
<rect x="576.65" y="320.10" width="2.20" height="5.10" fill="#26a69a"/>
<rect x="578.20" y="319.30" width="1.95" height="12.90" fill="#ef5350"/>
<rect x="579.95" y="319.30" width="1.95" height="12.90" fill="#ef5350"/>
<rect x="580.50" y="323.20" width="2.15" height="9.00" fill="#26a69a"/>
<rect x="582.45" y="323.20" width="2.15" height="9.00" fill="#26a69a"/>
<rect x="584.00" y="310.80" width="2.00" height="15.20" fill="#26a69a"/>
<rect x="585.80" y="310.80" width="2.00" height="15.20" fill="#26a69a"/>
<rect x="587.90" y="310.80" width="2.00" height="16.70" fill="#ef5350"/>
<rect x="589.70" y="310.80" width="2.00" height="16.70" fill="#ef5350"/>
<rect x="590.30" y="317.00" width="1.75" height="23.00" fill="#ef5350"/>
<rect x="591.85" y="317.00" width="1.75" height="23.00" fill="#ef5350"/>
<rect x="593.40" y="317.00" width="1.75" height="16.00" fill="#26a69a"/>
<rect x="594.95" y="317.00" width="1.75" height="16.00" fill="#26a69a"/>
<rect x="596.20" y="306.80" width="1.75" height="20.00" fill="#26a69a"/>
<rect x="597.75" y="306.80" width="1.75" height="20.00" fill="#26a69a"/>
<rect x="598.10" y="306.80" width="1.95" height="3.60" fill="#ef5350"/>
<rect x="599.85" y="306.80" width="1.95" height="3.60" fill="#ef5350"/>
<rect x="600.95" y="307.60" width="3.40" height="9.80" fill="#ef5350"/>
<rect x="603.20" y="314.30" width="1.75" height="4.65" fill="#26a69a"/>
<rect x="604.75" y="314.30" width="1.75" height="4.65" fill="#26a69a"/>
<rect x="606.70" y="310.80" width="1.95" height="6.60" fill="#ef5350"/>
<rect x="608.45" y="310.80" width="1.95" height="6.60" fill="#ef5350"/>
<rect x="609.65" y="314.80" width="2.20" height="4.15" fill="#ef5350"/>
<rect x="611.80" y="311.50" width="1.75" height="6.70" fill="#26a69a"/>
<rect x="613.35" y="311.50" width="1.75" height="6.70" fill="#26a69a"/>
<rect x="614.90" y="311.50" width="2.15" height="9.00" fill="#ef5350"/>
<rect x="616.85" y="311.50" width="2.15" height="9.00" fill="#ef5350"/>
<rect x="616.50" y="317.80" width="1.75" height="4.30" fill="#26a69a"/>
<rect x="618.05" y="317.80" width="1.75" height="4.30" fill="#26a69a"/>
<rect x="618.80" y="313.10" width="2.35" height="5.85" fill="#26a69a"/>
<rect x="620.95" y="313.10" width="2.35" height="5.85" fill="#26a69a"/>
<rect x="623.10" y="311.50" width="1.95" height="8.20" fill="#ef5350"/>
<rect x="624.85" y="311.50" width="1.95" height="8.20" fill="#ef5350"/>
<rect x="625.10" y="313.80" width="2.10" height="12.20" fill="#ef5350"/>
<rect x="627.00" y="313.80" width="2.10" height="12.20" fill="#ef5350"/>
<rect x="627.40" y="321.70" width="2.35" height="12.10" fill="#ef5350"/>
<rect x="629.55" y="321.70" width="2.35" height="12.10" fill="#ef5350"/>
<rect x="631.70" y="325.60" width="1.95" height="8.20" fill="#26a69a"/>
<rect x="633.45" y="325.60" width="1.95" height="8.20" fill="#26a69a"/>
<rect x="634.80" y="314.60" width="1.95" height="16.10" fill="#26a69a"/>
<rect x="636.55" y="314.60" width="1.95" height="16.10" fill="#26a69a"/>
<rect x="637.90" y="303.70" width="1.80" height="15.25" fill="#26a69a"/>
<rect x="639.50" y="303.70" width="1.80" height="15.25" fill="#26a69a"/>
<rect x="639.60" y="294.60" width="2.15" height="9.90" fill="#26a69a"/>
<rect x="641.55" y="294.60" width="2.15" height="9.90" fill="#26a69a"/>
<rect x="640.90" y="286.30" width="1.80" height="14.40" fill="#26a69a"/>
<rect x="642.50" y="286.30" width="1.80" height="14.40" fill="#26a69a"/>
<rect x="643.50" y="286.30" width="2.10" height="14.40" fill="#ef5350"/>
<rect x="645.40" y="286.30" width="2.10" height="14.40" fill="#ef5350"/>
<rect x="645.90" y="297.70" width="1.93" height="4.67" fill="#ef5350"/>
<rect x="647.63" y="298.77" width="1.93" height="4.67" fill="#ef5350"/>
<rect x="649.37" y="299.83" width="1.93" height="4.67" fill="#ef5350"/>
<rect x="649.90" y="300.30" width="1.70" height="6.10" fill="#26a69a"/>
<rect x="651.40" y="300.30" width="1.70" height="6.10" fill="#26a69a"/>
<rect x="652.90" y="299.60" width="1.80" height="2.30" fill="#ef5350"/>
<rect x="654.50" y="299.60" width="1.80" height="2.30" fill="#ef5350"/>
<rect x="656.10" y="300.30" width="2.10" height="4.80" fill="#ef5350"/>
<rect x="658.00" y="300.30" width="2.10" height="4.80" fill="#ef5350"/>
<rect x="659.30" y="300.30" width="2.45" height="4.20" fill="#26a69a"/>
<rect x="661.55" y="300.30" width="2.45" height="4.20" fill="#26a69a"/>
<rect x="663.80" y="296.87" width="1.87" height="6.33" fill="#26a69a"/>
<rect x="665.47" y="295.38" width="1.87" height="6.33" fill="#26a69a"/>
<rect x="667.13" y="293.90" width="1.87" height="6.33" fill="#26a69a"/>
<rect x="668.80" y="295.20" width="2.15" height="14.40" fill="#ef5350"/>
<rect x="670.75" y="295.20" width="2.15" height="14.40" fill="#ef5350"/>
<rect x="671.40" y="306.60" width="2.10" height="8.00" fill="#ef5350"/>
<rect x="673.30" y="306.60" width="2.10" height="8.00" fill="#ef5350"/>
<rect x="675.20" y="309.20" width="2.10" height="5.40" fill="#26a69a"/>
<rect x="677.10" y="309.20" width="2.10" height="5.40" fill="#26a69a"/>
<rect x="679.00" y="306.60" width="2.10" height="9.30" fill="#ef5350"/>
<rect x="680.90" y="306.60" width="2.10" height="9.30" fill="#ef5350"/>
<rect x="682.20" y="310.40" width="1.75" height="6.80" fill="#26a69a"/>
<rect x="683.75" y="310.40" width="1.75" height="6.80" fill="#26a69a"/>
<rect x="684.70" y="311.70" width="1.80" height="6.70" fill="#ef5350"/>
<rect x="686.30" y="311.70" width="1.80" height="6.70" fill="#ef5350"/>
<rect x="687.90" y="311.70" width="1.80" height="10.50" fill="#26a69a"/>
<rect x="689.50" y="311.70" width="1.80" height="10.50" fill="#26a69a"/>
<rect x="691.10" y="311.70" width="2.40" height="5.50" fill="#ef5350"/>
<rect x="693.30" y="311.70" width="2.40" height="5.50" fill="#ef5350"/>
<rect x="695.25" y="314.20" width="2.60" height="4.20" fill="#26a69a"/>
<rect x="697.15" y="289.50" width="2.00" height="5.70" fill="#ef5350"/>
<rect x="698.10" y="288.20" width="2.10" height="6.70" fill="#26a69a"/>
<rect x="700.00" y="288.20" width="2.10" height="6.70" fill="#26a69a"/>
<rect x="700.60" y="280.60" width="2.10" height="8.00" fill="#26a69a"/>
<rect x="702.50" y="280.60" width="2.10" height="8.00" fill="#26a69a"/>
<rect x="703.20" y="280.60" width="2.05" height="8.00" fill="#ef5350"/>
<rect x="705.05" y="280.60" width="2.05" height="8.00" fill="#ef5350"/>
<rect x="706.90" y="278.00" width="2.45" height="10.60" fill="#26a69a"/>
<rect x="709.15" y="278.00" width="2.45" height="10.60" fill="#26a69a"/>
<rect x="709.50" y="275.50" width="2.10" height="5.50" fill="#26a69a"/>
<rect x="711.40" y="275.50" width="2.10" height="5.50" fill="#26a69a"/>
<rect x="712.70" y="267.80" width="1.80" height="11.90" fill="#26a69a"/>
<rect x="714.30" y="267.80" width="1.80" height="11.90" fill="#26a69a"/>
<rect x="713.90" y="251.40" width="2.45" height="16.80" fill="#26a69a"/>
<rect x="716.15" y="251.40" width="2.45" height="16.80" fill="#26a69a"/>
<rect x="716.85" y="248.80" width="3.30" height="5.50" fill="#26a69a"/>
<rect x="719.45" y="248.20" width="3.20" height="3.00" fill="#26a69a"/>
<rect x="722.20" y="248.20" width="1.80" height="18.80" fill="#ef5350"/>
<rect x="723.80" y="248.20" width="1.80" height="18.80" fill="#ef5350"/>
<rect x="725.40" y="261.50" width="2.10" height="13.10" fill="#ef5350"/>
<rect x="727.30" y="261.50" width="2.10" height="13.10" fill="#ef5350"/>
<rect x="727.30" y="273.00" width="1.75" height="11.20" fill="#ef5350"/>
<rect x="728.85" y="273.00" width="1.75" height="11.20" fill="#ef5350"/>
<rect x="729.90" y="274.20" width="1.70" height="10.60" fill="#26a69a"/>
<rect x="731.40" y="274.20" width="1.70" height="10.60" fill="#26a69a"/>
<rect x="732.40" y="277.40" width="1.75" height="3.60" fill="#ef5350"/>
<rect x="733.95" y="277.40" width="1.75" height="3.60" fill="#ef5350"/>
<rect x="734.90" y="277.40" width="1.70" height="3.60" fill="#26a69a"/>
<rect x="736.40" y="277.40" width="1.70" height="3.60" fill="#26a69a"/>
<rect x="736.90" y="277.80" width="2.05" height="2.90" fill="#ef5350"/>
<rect x="738.75" y="277.80" width="2.05" height="2.90" fill="#ef5350"/>
<rect x="739.30" y="277.40" width="1.90" height="2.20" fill="#ef5350"/>
<rect x="741.00" y="277.80" width="1.90" height="2.20" fill="#ef5350"/>
<rect x="742.70" y="278.20" width="1.90" height="2.20" fill="#ef5350"/>
<rect x="743.10" y="269.20" width="2.45" height="11.20" fill="#26a69a"/>
<rect x="745.35" y="269.20" width="2.45" height="11.20" fill="#26a69a"/>
<rect x="746.90" y="269.20" width="2.15" height="5.40" fill="#ef5350"/>
<rect x="748.85" y="269.20" width="2.15" height="5.40" fill="#ef5350"/>
<rect x="750.80" y="264.10" width="2.10" height="11.20" fill="#26a69a"/>
<rect x="752.70" y="264.10" width="2.10" height="11.20" fill="#26a69a"/>
<rect x="752.70" y="261.50" width="2.40" height="5.50" fill="#26a69a"/>
<rect x="754.90" y="261.50" width="2.40" height="5.50" fill="#26a69a"/>
<rect x="755.90" y="253.90" width="2.05" height="9.30" fill="#26a69a"/>
<rect x="757.75" y="253.90" width="2.05" height="9.30" fill="#26a69a"/>
<rect x="757.70" y="247.60" width="2.10" height="11.80" fill="#26a69a"/>
<rect x="759.60" y="247.60" width="2.10" height="11.80" fill="#26a69a"/>
<rect x="760.90" y="247.60" width="1.80" height="8.00" fill="#ef5350"/>
<rect x="762.50" y="247.60" width="1.80" height="8.00" fill="#ef5350"/>
<rect x="764.10" y="242.50" width="2.10" height="10.60" fill="#26a69a"/>
<rect x="766.00" y="242.50" width="2.10" height="10.60" fill="#26a69a"/>
<rect x="766.60" y="242.50" width="1.80" height="4.20" fill="#ef5350"/>
<rect x="768.20" y="242.50" width="1.80" height="4.20" fill="#ef5350"/>
<rect x="768.50" y="242.50" width="1.80" height="5.50" fill="#26a69a"/>
<rect x="770.10" y="242.50" width="1.80" height="5.50" fill="#26a69a"/>
<rect x="771.10" y="242.50" width="2.10" height="8.00" fill="#ef5350"/>
<rect x="773.00" y="242.50" width="2.10" height="8.00" fill="#ef5350"/>
<rect x="774.20" y="243.10" width="2.15" height="7.40" fill="#26a69a"/>
<rect x="776.15" y="243.10" width="2.15" height="7.40" fill="#26a69a"/>
<rect x="776.80" y="233.60" width="2.10" height="10.60" fill="#26a69a"/>
<rect x="778.70" y="233.60" width="2.10" height="10.60" fill="#26a69a"/>
<rect x="779.30" y="229.80" width="2.45" height="4.80" fill="#ef5350"/>
<rect x="781.55" y="229.80" width="2.45" height="4.80" fill="#ef5350"/>
<rect x="779.90" y="226.80" width="2.45" height="3.40" fill="#ef5350"/>
<rect x="782.15" y="226.80" width="2.45" height="3.40" fill="#ef5350"/>
<rect x="783.55" y="228.80" width="2.80" height="3.40" fill="#26a69a"/>
<rect x="785.70" y="223.20" width="1.80" height="7.00" fill="#26a69a"/>
<rect x="787.30" y="223.20" width="1.80" height="7.00" fill="#26a69a"/>
<rect x="786.30" y="208.00" width="2.45" height="16.90" fill="#26a69a"/>
<rect x="788.55" y="208.00" width="2.45" height="16.90" fill="#26a69a"/>
<rect x="789.85" y="204.20" width="3.30" height="5.40" fill="#ef5350"/>
<rect x="792.00" y="205.40" width="2.15" height="3.60" fill="#26a69a"/>
<rect x="793.95" y="205.40" width="2.15" height="3.60" fill="#26a69a"/>
<rect x="794.95" y="201.60" width="3.40" height="5.50" fill="#26a69a"/>
<rect x="796.50" y="201.60" width="1.80" height="11.80" fill="#ef5350"/>
<rect x="798.10" y="201.60" width="1.80" height="11.80" fill="#ef5350"/>
<rect x="799.70" y="200.30" width="1.80" height="14.40" fill="#26a69a"/>
<rect x="801.30" y="200.30" width="1.80" height="14.40" fill="#26a69a"/>
<rect x="801.60" y="197.20" width="1.75" height="9.90" fill="#26a69a"/>
<rect x="803.15" y="197.20" width="1.75" height="9.90" fill="#26a69a"/>
<rect x="804.70" y="197.80" width="1.80" height="18.20" fill="#ef5350"/>
<rect x="806.30" y="197.80" width="1.80" height="18.20" fill="#ef5350"/>
<rect x="807.05" y="208.00" width="2.60" height="8.00" fill="#26a69a"/>
<rect x="807.90" y="209.20" width="2.10" height="8.00" fill="#ef5350"/>
<rect x="809.80" y="209.20" width="2.10" height="8.00" fill="#ef5350"/>
<rect x="809.90" y="210.50" width="1.70" height="6.70" fill="#26a69a"/>
<rect x="811.40" y="210.50" width="1.70" height="6.70" fill="#26a69a"/>
<rect x="811.70" y="209.20" width="2.10" height="6.80" fill="#26a69a"/>
<rect x="813.60" y="209.20" width="2.10" height="6.80" fill="#26a69a"/>
<rect x="814.30" y="192.80" width="2.10" height="18.10" fill="#26a69a"/>
<rect x="816.20" y="192.80" width="2.10" height="18.10" fill="#26a69a"/>
<rect x="817.15" y="192.80" width="3.20" height="3.40" fill="#26a69a"/>
<rect x="819.90" y="194.60" width="2.15" height="13.80" fill="#ef5350"/>
<rect x="821.85" y="194.60" width="2.15" height="13.80" fill="#ef5350"/>
<rect x="821.90" y="202.80" width="2.10" height="6.80" fill="#ef5350"/>
<rect x="823.80" y="202.80" width="2.10" height="6.80" fill="#ef5350"/>
<rect x="825.00" y="206.70" width="1.80" height="5.50" fill="#ef5350"/>
<rect x="826.60" y="206.70" width="1.80" height="5.50" fill="#ef5350"/>
<rect x="827.60" y="206.70" width="1.80" height="9.30" fill="#ef5350"/>
<rect x="829.20" y="206.70" width="1.80" height="9.30" fill="#ef5350"/>
<rect x="829.50" y="213.00" width="1.80" height="8.10" fill="#ef5350"/>
<rect x="831.10" y="213.00" width="1.80" height="8.10" fill="#ef5350"/>
<rect x="831.40" y="218.10" width="2.10" height="3.40" fill="#ef5350"/>
<rect x="833.30" y="218.85" width="2.10" height="3.40" fill="#ef5350"/>
<rect x="835.20" y="219.60" width="2.10" height="3.40" fill="#ef5350"/>
<rect x="836.50" y="215.60" width="1.75" height="7.40" fill="#26a69a"/>
<rect x="838.05" y="215.60" width="1.75" height="7.40" fill="#26a69a"/>
<rect x="839.00" y="191.50" width="2.10" height="25.70" fill="#26a69a"/>
<rect x="840.90" y="191.50" width="2.10" height="25.70" fill="#26a69a"/>
<rect x="842.80" y="190.20" width="1.80" height="18.20" fill="#ef5350"/>
<rect x="844.40" y="190.20" width="1.80" height="18.20" fill="#ef5350"/>
<rect x="845.75" y="197.80" width="3.20" height="11.20" fill="#26a69a"/>
<rect x="847.90" y="194.00" width="1.80" height="10.60" fill="#26a69a"/>
<rect x="849.50" y="194.00" width="1.80" height="10.60" fill="#26a69a"/>
<rect x="849.55" y="192.80" width="3.20" height="8.60" fill="#ef5350"/>
<rect x="851.70" y="188.90" width="2.10" height="11.80" fill="#26a69a"/>
<rect x="853.60" y="188.90" width="2.10" height="11.80" fill="#26a69a"/>
<rect x="853.00" y="169.70" width="2.10" height="20.90" fill="#26a69a"/>
<rect x="854.90" y="169.70" width="2.10" height="20.90" fill="#26a69a"/>
<rect x="854.80" y="155.30" width="2.50" height="15.80" fill="#26a69a"/>
<rect x="857.10" y="155.30" width="2.50" height="15.80" fill="#26a69a"/>
<rect x="858.90" y="150.20" width="1.70" height="9.10" fill="#ef5350"/>
<rect x="860.40" y="150.20" width="1.70" height="9.10" fill="#ef5350"/>
<rect x="861.65" y="144.00" width="2.80" height="11.70" fill="#26a69a"/>
<rect x="862.90" y="144.00" width="2.05" height="11.20" fill="#ef5350"/>
<rect x="864.75" y="144.00" width="2.05" height="11.20" fill="#ef5350"/>
<rect x="865.50" y="153.30" width="2.00" height="3.90" fill="#ef5350"/>
<rect x="867.30" y="153.30" width="2.00" height="3.90" fill="#ef5350"/>
<rect x="868.60" y="154.30" width="2.50" height="2.40" fill="#26a69a"/>
<rect x="870.90" y="154.30" width="2.50" height="2.40" fill="#26a69a"/>
<rect x="872.20" y="156.30" width="1.75" height="5.60" fill="#26a69a"/>
<rect x="873.75" y="156.30" width="1.75" height="5.60" fill="#26a69a"/>
<rect x="874.80" y="156.80" width="1.70" height="6.60" fill="#ef5350"/>
<rect x="876.30" y="156.80" width="1.70" height="6.60" fill="#ef5350"/>
<rect x="876.55" y="159.90" width="3.30" height="7.60" fill="#ef5350"/>
<rect x="878.90" y="162.50" width="2.25" height="5.00" fill="#26a69a"/>
<rect x="880.95" y="162.50" width="2.25" height="5.00" fill="#26a69a"/>
<rect x="882.50" y="162.50" width="1.70" height="6.00" fill="#ef5350"/>
<rect x="884.00" y="162.50" width="1.70" height="6.00" fill="#ef5350"/>
<rect x="885.00" y="163.50" width="1.75" height="7.60" fill="#ef5350"/>
<rect x="886.55" y="163.50" width="1.75" height="7.60" fill="#ef5350"/>
<rect x="887.60" y="163.83" width="1.90" height="7.27" fill="#26a69a"/>
<rect x="889.30" y="162.12" width="1.90" height="7.27" fill="#26a69a"/>
<rect x="891.00" y="160.40" width="1.90" height="7.27" fill="#26a69a"/>
<rect x="890.95" y="156.80" width="3.20" height="9.20" fill="#26a69a"/>
<rect x="893.70" y="156.80" width="2.00" height="11.20" fill="#ef5350"/>
<rect x="895.50" y="156.80" width="2.00" height="11.20" fill="#ef5350"/>
<rect x="895.80" y="159.40" width="1.75" height="8.60" fill="#26a69a"/>
<rect x="897.35" y="159.40" width="1.75" height="8.60" fill="#26a69a"/>
<rect x="897.80" y="160.40" width="1.75" height="11.70" fill="#ef5350"/>
<rect x="899.35" y="160.40" width="1.75" height="11.70" fill="#ef5350"/>
<rect x="900.40" y="170.70" width="2.00" height="26.60" fill="#ef5350"/>
<rect x="902.20" y="170.70" width="2.00" height="26.60" fill="#ef5350"/>
<rect x="902.40" y="193.00" width="1.95" height="4.30" fill="#26a69a"/>
<rect x="904.15" y="193.00" width="1.95" height="4.30" fill="#26a69a"/>
<rect x="906.05" y="190.10" width="3.60" height="9.20" fill="#ef5350"/>
<rect x="908.30" y="195.00" width="1.90" height="11.10" fill="#ef5350"/>
<rect x="910.00" y="195.00" width="1.90" height="11.10" fill="#ef5350"/>
<rect x="909.95" y="199.80" width="3.20" height="9.40" fill="#ef5350"/>
<rect x="913.10" y="189.10" width="1.95" height="13.10" fill="#ef5350"/>
<rect x="914.85" y="189.10" width="1.95" height="13.10" fill="#ef5350"/>
<rect x="914.85" y="196.00" width="3.60" height="7.20" fill="#ef5350"/>
<rect x="912.45" y="204.00" width="3.10" height="1.90" fill="#26a69a"/>
<rect x="919.90" y="200.30" width="2.20" height="5.80" fill="#ef5350"/>
<rect x="921.90" y="200.30" width="2.20" height="5.80" fill="#ef5350"/>
<rect x="922.40" y="196.90" width="2.40" height="9.20" fill="#26a69a"/>
<rect x="924.60" y="196.90" width="2.40" height="9.20" fill="#26a69a"/>
<rect x="925.80" y="187.20" width="2.15" height="12.10" fill="#26a69a"/>
<rect x="927.75" y="187.20" width="2.15" height="12.10" fill="#26a69a"/>
<rect x="927.80" y="178.40" width="1.90" height="10.20" fill="#26a69a"/>
<rect x="929.50" y="178.40" width="1.90" height="10.20" fill="#26a69a"/>
<rect x="930.45" y="177.50" width="3.60" height="10.10" fill="#ef5350"/>
<rect x="932.35" y="180.40" width="3.60" height="6.20" fill="#26a69a"/>
</g>
<!-- price labels -->
<g font-size="18" fill="#000000" stroke="#000000" stroke-width="0.3">
<text x="954.7" y="105.8">100</text>
<text x="954.7" y="200.1">99</text>
<text x="954.7" y="295.25">98</text>
<text x="954.5" y="389.0">97</text>
</g>
<rect x="947.6" y="167" width="72.6" height="30.7" fill="#26a69a"/>
<text x="956.3" y="190" font-size="18" fill="#ffffff" stroke="#ffffff" stroke-width="0.3">99.152</text>
<!-- time labels -->
<g font-size="18" fill="#1a1d23" stroke="#1a1d23" stroke-width="0.3" text-anchor="middle">
<text x="163.8" y="502.2">Sep</text>
<text x="347.2" y="502.1">24</text>
<text x="530.8" y="502.3">30</text>
<text x="711.1" y="502.2">Oct</text>
<text x="913.1" y="502.2">12</text>
</g>
<rect x="12" y="23.5" width="545" height="33.5" fill="#ffffff"/>
<!-- legend -->
<g font-size="18" fill="#1e2127" stroke="#1e2127" stroke-width="0.3">
<text x="14.2" y="48.7">Dollar Index O</text>
<text x="192.8" y="48.7">H</text>
<text x="270.1" y="48.7">L</text>
<text x="344.5" y="48.7">C</text>
</g>
<g font-size="18" fill="#32cd32" stroke="#32cd32" stroke-width="0.3">
<text x="132.8" y="48.7">99.100</text>
<text x="210.8" y="48.7">99.189</text>
<text x="285.0" y="48.7">99.089</text>
<text x="362.8" y="48.7">99.152</text>
<text x="427.5" y="48.7">0.051</text>
<text x="476.6" y="48.7">(+0.05%)</text>
</g>
<!-- gear -->
<g transform="translate(984.6 494.8)" fill="none" stroke="#707070" stroke-width="1.7">
<path d="M-2.60 -5.74 L-1.90 -8.69 L1.90 -8.69 L2.60 -5.74 L3.67 -5.12 L6.58 -5.99 L8.48 -2.70 L6.27 -0.62 L6.27 0.62 L8.48 2.70 L6.58 5.99 L3.67 5.12 L2.60 5.74 L1.90 8.69 L-1.90 8.69 L-2.60 5.74 L-3.67 5.12 L-6.58 5.99 L-8.48 2.70 L-6.27 0.62 L-6.27 -0.62 L-8.48 -2.70 L-6.58 -5.99 L-3.67 -5.12 Z" stroke-linejoin="round"/><circle cx="0" cy="0" r="2.9"/>
</g>
</svg>
</body></html>
